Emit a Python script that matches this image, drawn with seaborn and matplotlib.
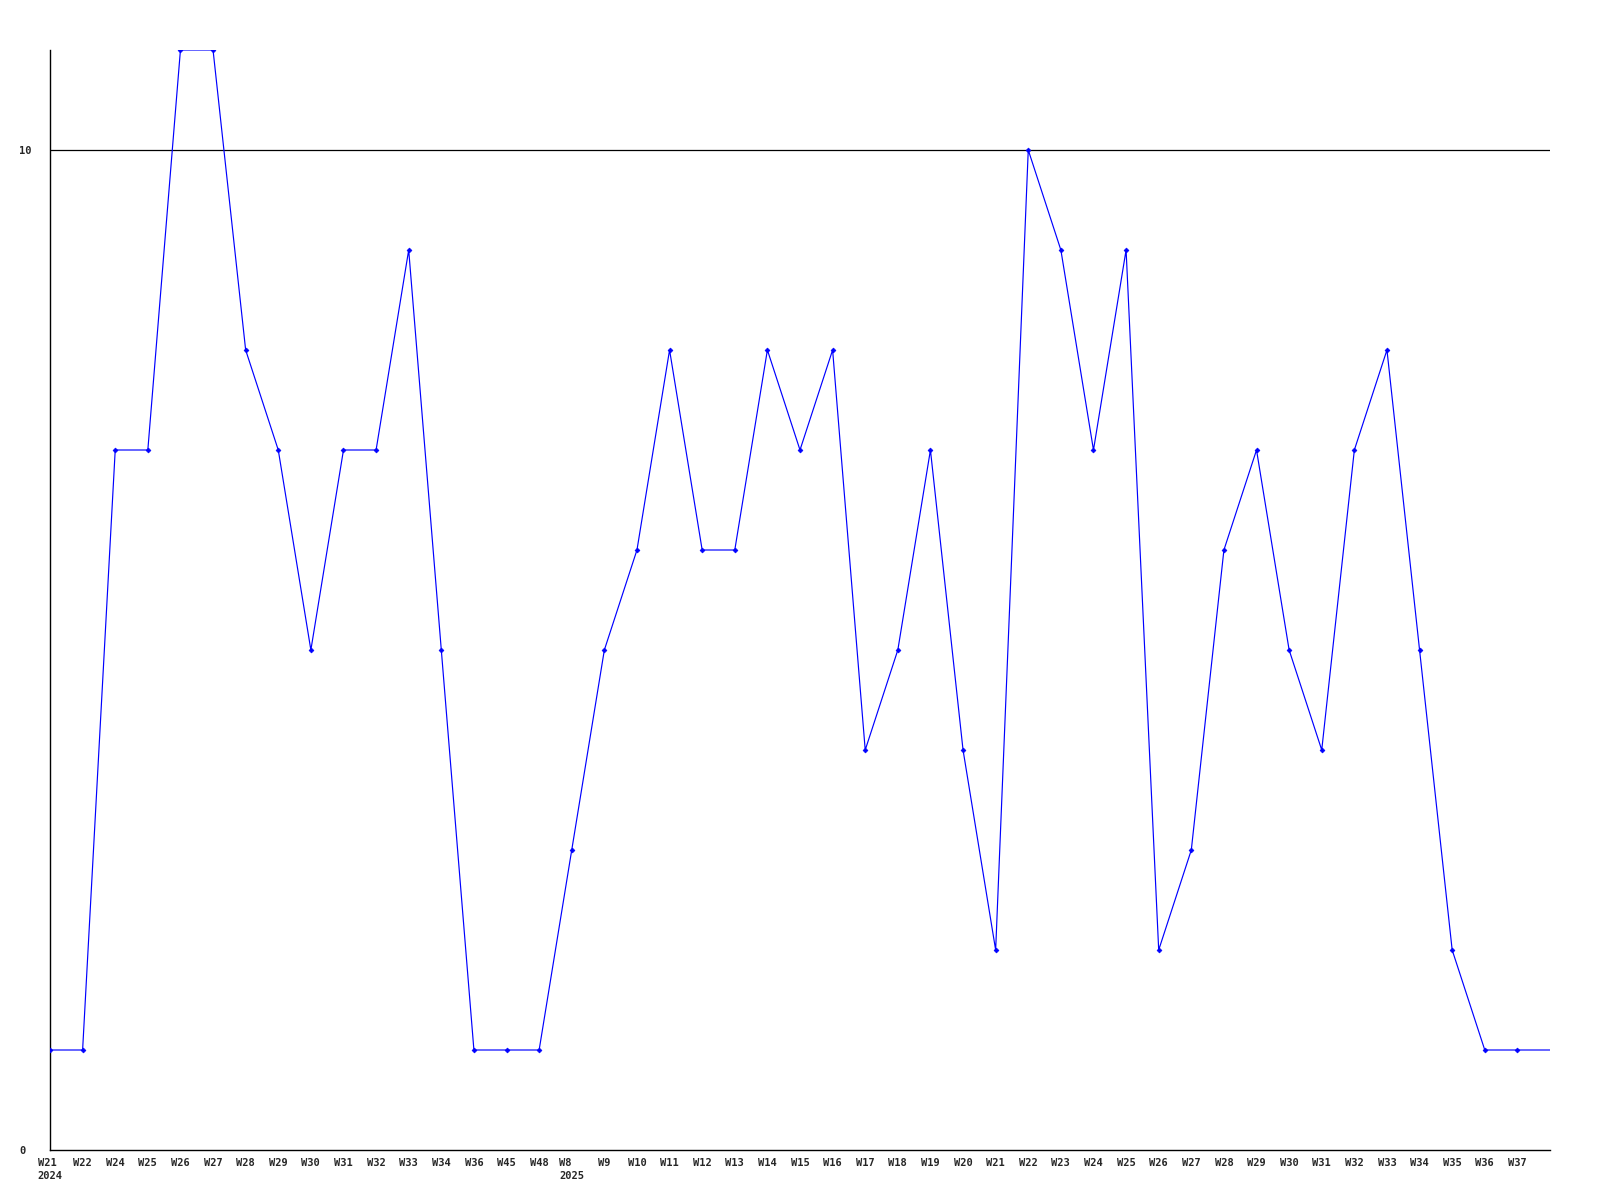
import matplotlib
matplotlib.use("Agg")
import matplotlib.pyplot as plt
import seaborn as sns
import pandas as pd
import numpy as np

weeks = ["W21", "W22", "W24", "W25", "W26", "W27", "W28", "W29", "W30", "W31", "W32", "W33",
         "W34", "W36", "W45", "W48", "W8", "W9", "W10", "W11", "W12", "W13", "W14", "W15",
         "W16", "W17", "W18", "W19", "W20", "W21", "W22", "W23", "W24", "W25", "W26", "W27",
         "W28", "W29", "W30", "W31", "W32", "W33", "W34", "W35", "W36", "W37"]
years = {0: "2024", 16: "2025"}
values = [1, 1, 7, 7, 11, 11, 8, 7, 5, 7, 7, 9,
          5, 1, 1, 1, 3, 5, 6, 8, 6, 6, 8, 7,
          8, 4, 5, 7, 4, 2, 10, 9, 7, 9, 2, 3,
          6, 7, 5, 4, 7, 8, 5, 2, 1, 1]
tail_value = 1  # line continues to right edge

sns.set_style("white")
plt.rcParams['font.family'] = ['DejaVu Sans Mono']

fig = plt.figure(figsize=(16, 12), dpi=100)
ax = fig.add_axes([50/1600, 50/1200, 1500/1600, 1100/1200])

n = len(weeks)
df_pts = pd.DataFrame({"x": np.arange(n), "y": values})
df_line = pd.DataFrame({"x": np.arange(n + 1), "y": values + [tail_value]})

ax.axhline(10, color="black", linewidth=0.9, zorder=1)
sns.lineplot(data=df_line, x="x", y="y", ax=ax, color="#0000ff", linewidth=0.85, zorder=3)
sns.scatterplot(data=df_pts, x="x", y="y", ax=ax, color="#0000ff", marker="D", s=6,
                linewidth=0.5, edgecolor="#0000ff", zorder=4)

ax.set_xlim(0, n)
ax.set_ylim(0, 11)
ax.set_xlabel("")
ax.set_ylabel("")

labels = [w + ("\n" + years[i] if i in years else "") for i, w in enumerate(weeks)]
ax.set_xticks(np.arange(n))
ax.set_xticklabels(labels, fontsize=7.5, fontweight="bold", multialignment="left",
                   linespacing=1.3, va="top")
ax.set_yticks([0, 10])
ax.set_yticklabels(["0", "10"], fontsize=7.5, fontweight="bold")
ax.tick_params(axis="x", length=0, pad=6)
ax.tick_params(axis="y", length=0, pad=22)
for lbl in ax.get_yticklabels():
    lbl.set_horizontalalignment("left")

for s in ["top", "right"]:
    ax.spines[s].set_visible(False)
for s in ["left", "bottom"]:
    ax.spines[s].set_color("black")
    ax.spines[s].set_linewidth(1)
ax.grid(False)

fig.savefig("out.png", dpi=100)
